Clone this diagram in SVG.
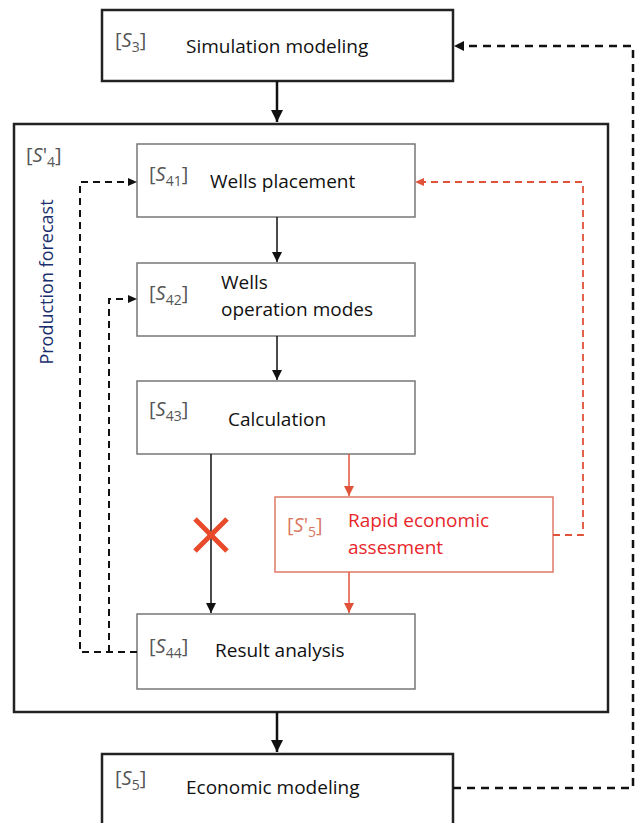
<svg xmlns="http://www.w3.org/2000/svg" width="636" height="823" viewBox="0 0 636 823">
<defs>
<style>
.box{fill:#fff;stroke:#222;stroke-width:2.5}
.ibox{fill:#fff;stroke:#777;stroke-width:1.5}
.rbox{fill:#fff;stroke:#e07a66;stroke-width:1.5}
.t{font-family:"Open Sans","Liberation Sans",sans-serif;font-size:19px;fill:#111}
.rt{font-family:"Open Sans","Liberation Sans",sans-serif;font-size:19px;fill:#e8262b}
.lab{font-family:"Open Sans","Liberation Sans",sans-serif;font-size:20px;fill:#555}
.rlab{font-family:"Open Sans","Liberation Sans",sans-serif;font-size:20px;fill:#d9785f}
.s{font-style:italic}
.sub{font-size:14px}
.pf{font-family:"Open Sans","Liberation Sans",sans-serif;font-size:18px;fill:#1a2f6e}
.thick{stroke:#111;stroke-width:2.5;fill:none}
.thin{stroke:#111;stroke-width:1.5;fill:none}
.red{stroke:#e0533a;stroke-width:1.5;fill:none}
.dash{stroke:#111;stroke-width:2;fill:none;stroke-dasharray:7 5}
.dashb{stroke:#111;stroke-width:2.5;fill:none;stroke-dasharray:8 6}
.rdash{stroke:#e0533a;stroke-width:1.8;fill:none;stroke-dasharray:7 5}
</style>
<marker id="ah" viewBox="0 0 10 10" refX="10" refY="5" markerWidth="5" markerHeight="5" markerUnits="strokeWidth" orient="auto"><path d="M0,0L10,5L0,10z" fill="#111"/></marker>
<marker id="ahs" viewBox="0 0 10 10" refX="10" refY="5" markerWidth="7" markerHeight="7" markerUnits="strokeWidth" orient="auto"><path d="M0,0L10,5L0,10z" fill="#111"/></marker>
<marker id="ahr" viewBox="0 0 10 10" refX="10" refY="5" markerWidth="7" markerHeight="7" markerUnits="strokeWidth" orient="auto"><path d="M0,0L10,5L0,10z" fill="#e0533a"/></marker>
</defs>
<rect width="636" height="823" fill="#fff"/>

<g id="S4prime">
<rect class="box" x="14" y="124" width="594" height="588"/>
<text class="lab" x="26" y="162">[<tspan class="s">S</tspan>'<tspan class="sub" dy="5">4</tspan><tspan dy="-5">]</tspan></text>
<text class="pf" transform="translate(53,282) rotate(-90)" text-anchor="middle">Production forecast</text>
</g>

<g id="S3">
<rect class="box" x="102" y="10" width="351" height="71"/>
<text class="lab" x="115" y="47">[<tspan class="s">S</tspan><tspan class="sub" dy="5">3</tspan><tspan dy="-5">]</tspan></text>
<text class="t" x="186" y="53">Simulation modeling</text>
</g>

<g id="S41">
<rect class="ibox" x="137" y="144" width="278" height="73"/>
<text class="lab" x="149" y="181">[<tspan class="s">S</tspan><tspan class="sub" dy="5">41</tspan><tspan dy="-5">]</tspan></text>
<text class="t" x="210" y="188">Wells placement</text>
</g>

<g id="S42">
<rect class="ibox" x="137" y="263" width="278" height="73"/>
<text class="lab" x="149" y="300">[<tspan class="s">S</tspan><tspan class="sub" dy="5">42</tspan><tspan dy="-5">]</tspan></text>
<text class="t" x="221" y="289">Wells</text>
<text class="t" x="221" y="316">operation modes</text>
</g>

<g id="S43">
<rect class="ibox" x="137" y="381" width="278" height="73"/>
<text class="lab" x="149" y="416">[<tspan class="s">S</tspan><tspan class="sub" dy="5">43</tspan><tspan dy="-5">]</tspan></text>
<text class="t" x="228" y="426">Calculation</text>
</g>

<g id="S5prime">
<rect class="rbox" x="275" y="497" width="278" height="75"/>
<text class="rlab" x="287" y="532">[<tspan class="s">S</tspan>'<tspan class="sub" dy="5">5</tspan><tspan dy="-5">]</tspan></text>
<text class="rt" x="348" y="527">Rapid economic</text>
<text class="rt" x="348" y="554">assesment</text>
</g>

<g id="S44">
<rect class="ibox" x="137" y="614" width="278" height="75"/>
<text class="lab" x="149" y="653">[<tspan class="s">S</tspan><tspan class="sub" dy="5">44</tspan><tspan dy="-5">]</tspan></text>
<text class="t" x="215" y="657">Result analysis</text>
</g>

<g id="S5">
<rect class="box" x="102" y="754" width="351" height="75"/>
<text class="lab" x="115" y="785">[<tspan class="s">S</tspan><tspan class="sub" dy="5">5</tspan><tspan dy="-5">]</tspan></text>
<text class="t" x="186" y="794">Economic modeling</text>
</g>

<g id="connectors">
<line class="thick" x1="277" y1="81" x2="277" y2="122" marker-end="url(#ah)"/>
<line class="thin" x1="277" y1="217" x2="277" y2="262" marker-end="url(#ahs)"/>
<line class="thin" x1="277" y1="336" x2="277" y2="380" marker-end="url(#ahs)"/>
<line class="thin" x1="211" y1="454" x2="211" y2="613" marker-end="url(#ahs)"/>
<line class="red" x1="349" y1="454" x2="349" y2="496" marker-end="url(#ahr)"/>
<line class="red" x1="349" y1="572" x2="349" y2="613" marker-end="url(#ahr)"/>
<line class="thick" x1="277" y1="712" x2="277" y2="752" marker-end="url(#ah)"/>
<polyline class="rdash" points="553,535 583,535 583,182 417,182"/>
<path d="M415,182 L424,178 L424,186z" fill="#e0533a"/>
<polyline class="dash" points="137,652 80,652 80,182 128,182"/>
<path d="M137,182 L128,178 L128,186z" fill="#111"/>
<polyline class="dash" points="109,652 109,299 128,299"/>
<path d="M137,299 L128,295 L128,303z" fill="#111"/>
<polyline class="dashb" points="453,788 633,788 633,46 464,46"/>
<path d="M454,46 L464,41 L464,51z" fill="#111"/>
<g stroke="#e84a2a" stroke-width="5" stroke-linecap="butt">
<line x1="195" y1="519" x2="227" y2="551"/>
<line x1="227" y1="519" x2="195" y2="551"/>
</g>
</g>
</svg>
